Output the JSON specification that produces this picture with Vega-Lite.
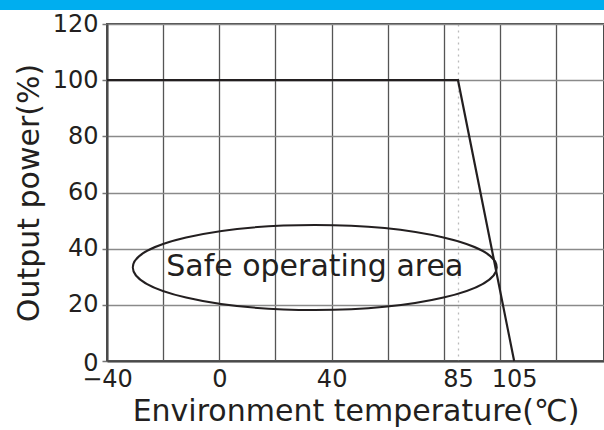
{
  "$schema": "https://vega.github.io/schema/vega-lite/v6.json",
  "width": 497,
  "height": 337,
  "autosize": {"type": "none"},
  "padding": {"left": 107, "top": 24, "right": 0, "bottom": 69},
  "background": "white",
  "config": {
    "font": "DejaVu Sans",
    "view": {"stroke": "#4a4a4a", "strokeWidth": 2}
  },
  "datasets": {
    "band": [{"x": -80, "x2": 140, "y": 125, "y2": 135}],
    "curve": [{"x": -40, "y": 100}, {"x": 85, "y": 100}, {"x": 105, "y": 0}],
    "label": [{"x": 34, "y": 33.3, "text": "Safe operating area"}]
  },
  "encoding": {
    "x": {
      "field": "x", "type": "quantitative",
      "scale": {"domain": [-40, 137], "nice": false, "zero": false},
      "axis": {
        "values": [-40, -20, 0, 20, 40, 60, 80, 85, 100, 105, 120],
        "labelExpr": "indexof([-40,0,40,85,105], datum.value) >= 0 ? datum.label : ''",
        "ticks": false,
        "labelPadding": 6,
        "labelFontSize": 24,
        "labelColor": "#231f20",
        "labelFlush": false,
        "domainColor": "#4a4a4a",
        "domainWidth": 2,
        "grid": true,
        "gridColor": {"condition": {"test": "datum.value == 85", "value": "#bbbbbb"}, "value": "#555555"},
        "gridOpacity": {"condition": {"test": "datum.value == 105", "value": 0}, "value": 1},
        "gridDash": {"condition": {"test": "datum.value == 85", "value": [2, 4]}, "value": []},
        "gridWidth": 1.3,
        "title": "Environment temperature(℃)",
        "titleFontSize": 30,
        "titleFontWeight": "normal",
        "titleColor": "#231f20",
        "titlePadding": 5
      }
    },
    "y": {
      "field": "y", "type": "quantitative",
      "scale": {"domain": [0, 120], "nice": false, "zero": false},
      "axis": {
        "values": [0, 20, 40, 60, 80, 100, 120],
        "tickSize": 5,
        "tickColor": "#777777",
        "tickWidth": 1.5,
        "labelPadding": 4,
        "labelOffset": {"condition": {"test": "datum.value == 0", "value": 2}, "value": 0},
        "labelFontSize": 24,
        "labelColor": "#231f20",
        "labelFlush": false,
        "domainColor": "#4a4a4a",
        "domainWidth": 2,
        "grid": true,
        "gridColor": "#8a8a8a",
        "gridWidth": 1.5,
        "title": "Output power(%)",
        "titleFontSize": 30,
        "titleFontWeight": "normal",
        "titleColor": "#231f20",
        "titlePadding": 8
      }
    }
  },
  "layer": [
    {
      "data": {"name": "band"},
      "mark": {"type": "rect", "color": "#00AEEF", "clip": false},
      "encoding": {"x2": {"field": "x2"}, "y2": {"field": "y2"}}
    },
    {
      "data": {"name": "curve"},
      "mark": {"type": "line", "color": "#231f20", "strokeWidth": 2.2}
    },
    {
      "data": {"name": "label"},
      "mark": {
        "type": "point",
        "shape": "M-1,0A1,0.2335,0,1,1,1,0A1,0.2335,0,1,1,-1,0Z",
        "size": 132496,
        "filled": false,
        "stroke": "#231f20",
        "strokeWidth": 2,
        "opacity": 1
      }
    },
    {
      "data": {"name": "label"},
      "mark": {"type": "text", "fontSize": 30, "color": "#231f20", "align": "center", "baseline": "middle"},
      "encoding": {"text": {"field": "text"}}
    }
  ]
}
